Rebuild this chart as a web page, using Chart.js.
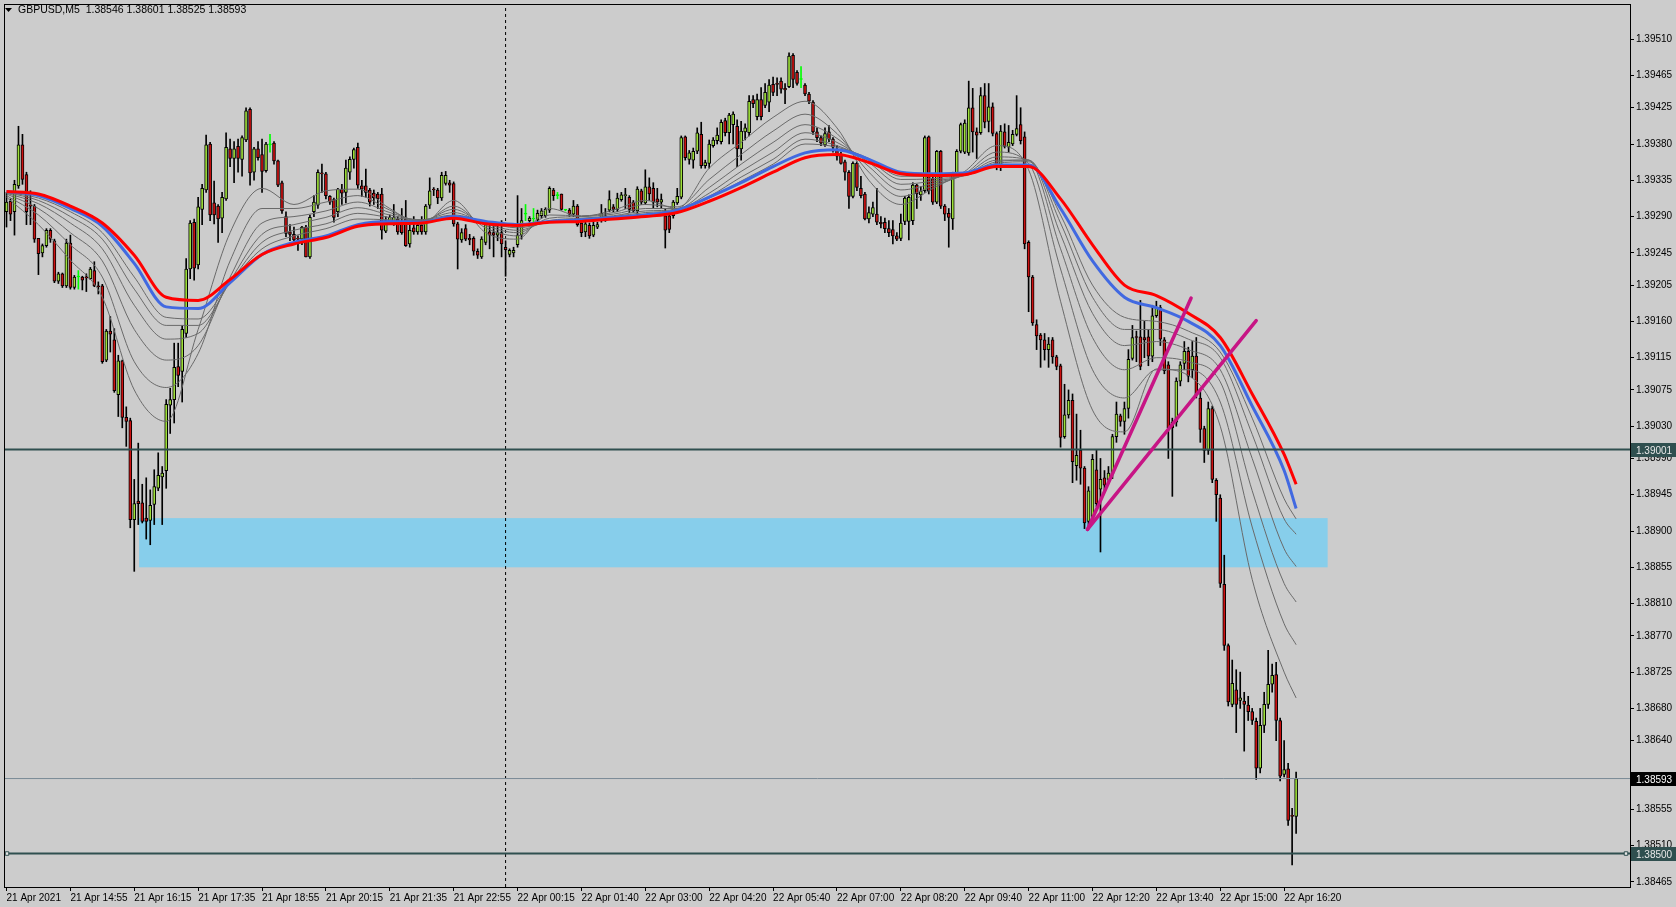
<!DOCTYPE html>
<html>
<head>
<meta charset="utf-8">
<title>GBPUSD,M5</title>
<script src="https://cdn.jsdelivr.net/npm/chart.js@4.4.0/dist/chart.umd.min.js"></script>
<style>
  html, body { margin: 0; padding: 0; background: #cccccc; }
  canvas { display: block; }
</style>
</head>
<body>
<canvas id="chart" width="1676" height="907"></canvas>
<script>
// prices are stored as points above 1.38000 (1 point = 0.00001)
const BASE = 1.38;

// 5 minute candles, bar 0 = 21 Apr 13:35
const opens = [
  1296,1309,1296,1328,1379,1342,1304,1303,1263,1245,1254,1273,1260,1210,1219,1204,
  1257,1202,1215,1215,1215,1213,1223,1204,1204,1112,1148,1137,1069,1111,1041,1037,
  914,937,935,916,913,933,953,967,975,1056,1063,1104,1098,1145,1225,1283,
  1230,1299,1323,1380,1307,1303,1288,1312,1374,1362,1377,1361,1385,1423,1345,1374,
  1367,1347,1379,1381,1359,1332,1290,1271,1268,1263,1262,1277,1240,1296,1304,1344,
  1343,1315,1311,1296,1324,1320,1345,1361,1376,1328,1328,1323,1319,1318,1318,1272,
  1285,1282,1287,1281,1287,1256,1276,1271,1279,1271,1304,1324,1323,1313,1331,1332,
  1331,1281,1261,1275,1263,1263,1247,1240,1258,1271,1270,1267,1270,1252,1243,1245,
  1255,1267,1293,1285,1287,1286,1291,1291,1298,1323,1316,1318,1298,1298,1293,1303,
  1282,1271,1279,1267,1277,1286,1291,1298,1302,1299,1311,1316,1314,1308,1297,1322,
  1307,1327,1325,1312,1308,1291,1291,1291,1307,1314,1389,1361,1360,1371,1392,1353,
  1356,1378,1384,1383,1409,1394,1404,1402,1374,1395,1394,1435,1414,1435,1428,1432,
  1454,1455,1458,1449,1451,1490,1469,1460,1453,1442,1432,1395,1388,1379,1395,1386,
  1372,1366,1358,1345,1315,1356,1325,1318,1287,1293,1293,1283,1283,1275,1274,1266,
  1263,1284,1284,1285,1329,1317,1322,1389,1337,1308,1371,1303,1294,1287,1343,1371,
  1370,1369,1425,1395,1394,1440,1408,1426,1393,1351,1395,1376,1380,1392,1404,1389,
  1258,1215,1156,1143,1137,1125,1137,1116,1105,1017,1044,1062,981,1000,978,912,
  918,976,952,966,964,971,1017,1043,1036,1052,1114,1141,1141,1140,1141,1117,
  1167,1177,1137,1106,1035,1035,1086,1108,1123,1100,1117,1065,1027,1000,1052,963,
  941,834,758,685,703,690,689,684,676,664,606,659,685,710,722,665,
  598,605,547,546
];
const highs = [
  1320,1312,1335,1402,1392,1345,1322,1305,1263,1256,1275,1275,1262,1221,1220,1262,
  1267,1217,1223,1216,1219,1227,1234,1209,1206,1150,1166,1151,1118,1112,1054,1040,
  964,1009,958,966,951,976,997,980,1063,1077,1133,1133,1155,1238,1285,1287,
  1314,1330,1391,1382,1334,1305,1320,1394,1386,1383,1386,1390,1425,1425,1376,1383,
  1386,1382,1392,1383,1360,1334,1296,1280,1277,1266,1278,1279,1292,1316,1348,1355,
  1345,1316,1313,1325,1330,1360,1364,1375,1381,1335,1349,1325,1323,1320,1325,1290,
  1292,1305,1290,1300,1310,1280,1290,1285,1290,1305,1338,1326,1325,1345,1346,1335,
  1333,1283,1275,1280,1268,1265,1250,1265,1284,1282,1282,1280,1285,1260,1250,1252,
  1316,1300,1305,1290,1300,1298,1300,1301,1327,1325,1320,1318,1299,1300,1310,1305,
  1285,1283,1282,1284,1283,1305,1300,1322,1305,1319,1320,1325,1316,1310,1327,1324,
  1348,1338,1332,1325,1318,1300,1295,1310,1325,1390,1390,1372,1375,1400,1407,1360,
  1385,1388,1400,1410,1412,1418,1420,1410,1408,1405,1440,1440,1442,1450,1455,1460,
  1463,1462,1462,1455,1493,1492,1471,1476,1455,1444,1434,1400,1390,1400,1403,1388,
  1378,1370,1360,1347,1358,1358,1340,1320,1302,1308,1325,1290,1288,1285,1285,1270,
  1293,1315,1317,1332,1330,1327,1390,1390,1340,1372,1372,1305,1300,1345,1373,1406,
  1410,1458,1449,1400,1450,1455,1455,1431,1395,1403,1405,1403,1397,1440,1425,1395,
  1260,1217,1162,1145,1145,1140,1140,1118,1107,1082,1075,1070,1045,1025,980,955,
  995,1000,990,975,980,1020,1060,1045,1060,1125,1155,1148,1186,1160,1150,1180,
  1185,1180,1140,1110,1040,1090,1110,1135,1128,1135,1140,1075,1030,1060,1055,965,
  945,870,760,740,728,725,700,695,680,668,680,700,752,735,737,668,
  640,612,556,601
];
const lows = [
  1277,1285,1267,1325,1330,1280,1280,1258,1218,1240,1252,1258,1208,1207,1202,1202,
  1200,1200,1200,1199,1197,1212,1203,1194,1108,1110,1122,1072,1042,1028,1005,904,
  850,908,910,890,883,908,950,908,953,1021,1034,1079,1060,1140,1213,1211,
  1225,1280,1320,1285,1281,1258,1270,1310,1352,1332,1345,1340,1383,1329,1335,1360,
  1320,1345,1370,1355,1327,1294,1265,1260,1255,1248,1255,1240,1238,1290,1300,1320,
  1312,1305,1283,1290,1305,1307,1336,1350,1325,1315,1314,1303,1305,1300,1262,1270,
  1282,1279,1268,1268,1253,1252,1268,1268,1268,1268,1300,1316,1306,1310,1329,1320,
  1278,1225,1258,1260,1255,1242,1238,1238,1255,1250,1240,1260,1240,1216,1240,1240,
  1252,1262,1285,1283,1280,1280,1288,1289,1295,1310,1312,1298,1297,1290,1290,1278,
  1265,1265,1263,1265,1275,1283,1284,1296,1296,1296,1309,1300,1295,1295,1290,1305,
  1305,1310,1300,1302,1300,1251,1270,1288,1305,1312,1360,1355,1350,1368,1350,1350,
  1350,1376,1380,1380,1390,1380,1380,1352,1360,1385,1390,1425,1410,1410,1425,1420,
  1440,1440,1443,1430,1450,1450,1453,1450,1440,1430,1392,1383,1378,1377,1383,1370,
  1360,1355,1335,1300,1313,1322,1313,1286,1282,1290,1280,1276,1270,1265,1256,1260,
  1260,1280,1261,1280,1300,1310,1320,1318,1305,1306,1300,1285,1252,1274,1341,1369,
  1368,1366,1370,1362,1392,1400,1395,1390,1348,1347,1375,1370,1378,1390,1380,1250,
  1172,1155,1125,1103,1112,1103,1108,1100,1004,1015,1040,960,963,958,903,905,
  912,930,874,950,960,965,1010,1030,1020,1040,1112,1110,1100,1115,1105,1110,
  1165,1130,1095,990,943,1030,1080,1100,1085,1090,1065,1010,985,995,960,912,
  830,752,683,682,650,680,627,665,660,592,600,650,680,700,640,590,
  595,535,486,525
];
const closes = [
  1308,1293,1330,1379,1336,1296,1303,1262,1244,1254,1273,1262,1210,1219,1204,1257,
  1202,1215,1215,1211,1214,1225,1204,1203,1110,1148,1144,1074,1111,1041,1036,914,
  934,934,912,912,932,955,969,972,1057,1063,1103,1093,1150,1225,1282,1226,
  1302,1325,1379,1292,1292,1287,1314,1376,1362,1374,1362,1388,1421,1344,1374,1363,
  1346,1380,1379,1359,1329,1297,1269,1268,1261,1262,1277,1240,1289,1308,1345,1343,
  1316,1308,1289,1324,1319,1350,1361,1373,1329,1324,1320,1308,1313,1312,1273,1285,
  1289,1289,1271,1270,1254,1273,1271,1279,1271,1303,1322,1323,1313,1341,1341,1329,
  1281,1262,1270,1262,1261,1247,1242,1262,1280,1267,1267,1270,1256,1249,1248,1248,
  1267,1285,1293,1288,1287,1294,1297,1299,1325,1316,1316,1299,1298,1293,1303,1280,
  1270,1281,1266,1279,1280,1294,1287,1311,1299,1313,1317,1317,1299,1297,1324,1308,
  1327,1318,1308,1308,1311,1273,1274,1308,1315,1388,1363,1369,1371,1394,1353,1357,
  1380,1385,1391,1407,1394,1416,1417,1374,1396,1400,1433,1430,1435,1414,1444,1453,
  1444,1454,1448,1447,1489,1460,1455,1460,1442,1433,1395,1388,1381,1393,1386,1376,
  1365,1356,1345,1315,1356,1326,1316,1287,1295,1301,1283,1281,1275,1270,1266,1262,
  1282,1313,1314,1329,1318,1322,1388,1322,1308,1371,1303,1293,1289,1343,1371,1404,
  1406,1425,1395,1391,1440,1407,1426,1393,1352,1396,1377,1382,1392,1399,1384,1256,
  1215,1158,1142,1137,1125,1132,1116,1104,1016,1044,1062,986,994,978,910,950,
  989,934,964,957,972,1017,1045,1036,1052,1113,1140,1140,1104,1137,1117,1167,
  1177,1138,1099,1028,1028,1086,1106,1123,1092,1117,1069,1026,1000,1052,964,945,
  835,758,688,711,685,693,685,676,665,606,659,685,710,721,665,596,
  604,541,546,593
];

// moving average lines, read at every 8th bar
const maIdx = [0,8,16,24,32,40,48,56,64,72,80,88,96,104,112,120,128,136,144,152,160,
  168,176,184,192,200,208,216,224,232,240,248,256,264,272,280,288,296,304,312,320,323];
const maRed = [1321,1318,1303,1282,1242,1190,1186,1212,1243,1256,1264,1278,1281,1282,1288,1281,1279,1283,1284,1287,1290,
  1295,1309,1326,1345,1363,1367,1357,1343,1341,1342,1352,1352,1312,1255,1205,1192,1170,1140,1070,995,958];
const maBlue = [1321,1316,1300,1278,1232,1178,1176,1208,1243,1258,1266,1280,1284,1283,1290,1284,1280,1284,1286,1289,1292,
  1298,1314,1332,1352,1369,1373,1361,1345,1343,1344,1354,1354,1300,1235,1190,1177,1160,1130,1055,975,928];
const maGrey = [
  [1314,1280,1236,1190,1075,1036,1150,1270,1325,1305,1322,1324,1300,1280,1310,1270,1262,1300,1290,1298,1310,
   1300,1350,1382,1413,1433,1400,1335,1305,1325,1346,1378,1348,1185,1050,1023,1101,1093,1030,840,725,693],
  [1316,1292,1255,1215,1110,1078,1120,1235,1300,1300,1308,1316,1298,1283,1303,1276,1266,1292,1291,1295,1305,
   1302,1336,1367,1396,1417,1393,1345,1315,1328,1343,1370,1356,1225,1100,1065,1100,1100,1060,905,785,759],
  [1318,1300,1270,1235,1150,1112,1130,1215,1282,1290,1297,1308,1295,1285,1299,1279,1270,1288,1290,1293,1300,
   1300,1326,1355,1382,1404,1387,1352,1323,1331,1342,1364,1360,1250,1140,1100,1115,1110,1085,950,835,812],
  [1319,1306,1282,1250,1180,1138,1145,1210,1268,1280,1289,1301,1292,1286,1295,1281,1273,1285,1288,1291,1297,
   1299,1319,1346,1370,1394,1382,1357,1330,1334,1341,1360,1360,1268,1170,1130,1135,1125,1100,990,878,856],
  [1320,1310,1290,1262,1200,1155,1155,1208,1258,1273,1281,1294,1289,1286,1292,1283,1276,1283,1287,1290,1295,
   1298,1315,1339,1361,1386,1378,1360,1336,1337,1341,1358,1360,1282,1190,1150,1150,1138,1115,1020,915,896],
  [1320,1313,1296,1270,1215,1165,1163,1208,1250,1266,1275,1287,1286,1285,1290,1284,1278,1283,1286,1289,1293,
   1297,1313,1334,1355,1380,1376,1362,1340,1340,1341,1356,1358,1292,1205,1165,1160,1148,1122,1040,940,915]
];

// price axis labels and the x labels every 16 bars
const yTicks = [1510,1465,1425,1380,1335,1290,1245,1205,1160,1115,1075,1030,990,945,900,855,810,770,725,680,640,555,510,465];
const xTickIdx = [0,16,32,48,64,80,96,112,128,144,160,176,192,208,224,240,256,272,288,304,320];
const xTickLabels = ['21 Apr 2021','21 Apr 14:55','21 Apr 16:15','21 Apr 17:35','21 Apr 18:55','21 Apr 20:15',
  '21 Apr 21:35','21 Apr 22:55','22 Apr 00:15','22 Apr 01:40','22 Apr 03:00','22 Apr 04:20','22 Apr 05:40',
  '22 Apr 07:00','22 Apr 08:20','22 Apr 09:40','22 Apr 11:00','22 Apr 12:20','22 Apr 13:40','22 Apr 15:00','22 Apr 16:20'];

// drawn objects
const levels = [1001, 500];        // horizontal lines
const zone = { from: 33.2, to: 330.9, low: 855, high: 916 };
const trendA = [[270.75, 902], [296.7, 1189]];
const trendB = [[270.75, 902], [313, 1161]];
const daySeparator = 125;

const X_MIN = -0.375, X_MAX = 406.625;
const Y_MIN = 458.5, Y_MAX = 1552.4;
const FONT = '"Liberation Sans", Arial, sans-serif';
const BULL = '#9ee03a', BEAR = '#cc1111', DOJI = '#00ff00';

const fmt = v => (BASE + v / 1e5).toFixed(5);
const idx = closes.map((_, i) => i);
const isDoji = i => opens[i] === closes[i];

const wicks = idx.map(i => ({ x: i, y: [lows[i], highs[i]] }));
const bodies = idx.map(i => ({ x: i, y: [Math.min(opens[i], closes[i]), Math.max(opens[i], closes[i])] }));
const maLine = arr => maIdx.map((x, k) => ({ x: x, y: arr[k] }));
const hline = v => [{ x: X_MIN, y: v }, { x: X_MAX, y: v }];

const datasets = [];
datasets.push({
  type: 'line', data: maLine(maRed), borderColor: '#ff0000', borderWidth: 3,
  pointRadius: 0, cubicInterpolationMode: 'monotone', order: 1
});
datasets.push({
  type: 'line', data: maLine(maBlue), borderColor: '#4169e1', borderWidth: 3,
  pointRadius: 0, cubicInterpolationMode: 'monotone', order: 2
});
maGrey.forEach(g => datasets.push({
  type: 'line', data: maLine(g), borderColor: '#6a6a6a', borderWidth: 1,
  pointRadius: 0, cubicInterpolationMode: 'monotone', order: 3
}));
datasets.push({
  type: 'bar', data: bodies, grouped: false, barThickness: 3, minBarLength: 1,
  borderWidth: 1, borderSkipped: false,
  backgroundColor: c => isDoji(c.dataIndex) ? DOJI : (closes[c.dataIndex] > opens[c.dataIndex] ? BULL : BEAR),
  borderColor: c => isDoji(c.dataIndex) ? DOJI : '#000000',
  order: 4
});
datasets.push({
  type: 'bar', data: wicks, grouped: false, barThickness: 1, borderWidth: 0,
  backgroundColor: c => isDoji(c.dataIndex) ? DOJI : '#000000',
  order: 5
});
datasets.push({
  type: 'line', data: [{ x: daySeparator, y: Y_MIN }, { x: daySeparator, y: Y_MAX }],
  borderColor: '#000000', borderWidth: 1, borderDash: [3, 3], pointRadius: 0, order: 7
});
levels.forEach(v => datasets.push({
  type: 'line', data: hline(v), borderColor: '#2f4f4f', borderWidth: 2, pointRadius: 0, order: 0
}));
// bid line
datasets.push({
  type: 'line', data: hline(closes[closes.length - 1]), borderColor: '#7a8a96', borderWidth: 1,
  pointRadius: 0, order: 0
});
// selection handles on the 1.38500 line
datasets.push({
  type: 'line', data: [{ x: 0.125, y: levels[1] }, { x: 405.625, y: levels[1] }], showLine: false,
  pointStyle: 'rect', pointRadius: 2.5, pointBackgroundColor: '#e6e6e6', pointBorderColor: '#2f4f4f',
  pointBorderWidth: 1, order: -2
});
[trendA, trendB].forEach(t => datasets.push({
  type: 'line', data: t.map(p => ({ x: p[0], y: p[1] })), borderColor: '#c71585', borderWidth: 3.5,
  borderCapStyle: 'round', pointRadius: 0, order: -1
}));

const mtPlugin = {
  id: 'mt4',
  beforeDraw(chart) {
    const ctx = chart.ctx;
    ctx.save();
    ctx.fillStyle = '#cccccc';
    ctx.fillRect(0, 0, chart.width, chart.height);
    ctx.restore();
  },
  beforeDatasetsDraw(chart) {
    const { ctx, scales: { x, y } } = chart;
    const x1 = x.getPixelForValue(zone.from), x2 = x.getPixelForValue(zone.to);
    const y1 = y.getPixelForValue(zone.high), y2 = y.getPixelForValue(zone.low);
    ctx.save();
    ctx.fillStyle = '#87ceeb';
    ctx.fillRect(x1, y1, x2 - x1, y2 - y1);
    ctx.restore();
  },
  afterDraw(chart) {
    const { ctx, chartArea: a, scales: { y } } = chart;
    ctx.save();
    // frame
    ctx.strokeStyle = '#000000';
    ctx.lineWidth = 1;
    ctx.strokeRect(a.left - 0.5, a.top - 0.5, a.right - a.left + 1, a.bottom - a.top + 1);

    // price tags on the axis
    const last = closes.length - 1;
    const tags = [
      { v: levels[0], bg: '#2f4f4f', fg: '#e8e8e8' },
      { v: closes[last], bg: '#000000', fg: '#ffffff' },
      { v: levels[1], bg: '#2f4f4f', fg: '#e8e8e8' }
    ];
    ctx.font = '10px ' + FONT;
    ctx.textBaseline = 'middle';
    ctx.textAlign = 'left';
    tags.forEach(t => {
      const py = Math.round(y.getPixelForValue(t.v));
      ctx.fillStyle = t.bg;
      ctx.fillRect(a.right + 1, py - 7, chart.width - a.right - 1, 14);
      ctx.fillStyle = t.fg;
      ctx.fillText(fmt(t.v), a.right + 6, py + 1);
    });

    // title
    ctx.fillStyle = '#000000';
    ctx.beginPath();
    ctx.moveTo(5, 8); ctx.lineTo(12, 8); ctx.lineTo(8.5, 12); ctx.closePath();
    ctx.fill();
    ctx.font = '10.5px ' + FONT;
    ctx.textBaseline = 'middle';
    ctx.fillText('GBPUSD,M5  ' + [opens[last], highs[last], lows[last], closes[last]].map(fmt).join(' '), 18, 10.5);
    ctx.restore();
  }
};

new Chart(document.getElementById('chart'), {
  type: 'bar',
  data: { datasets: datasets },
  options: {
    responsive: false,
    animation: false,
    devicePixelRatio: 1,
    events: [],
    layout: { padding: { left: 2, top: 2, right: 0, bottom: 0 } },
    plugins: { legend: { display: false }, tooltip: { enabled: false } },
    scales: {
      x: {
        type: 'linear', position: 'bottom', min: X_MIN, max: X_MAX, offset: false,
        afterFit: s => { s.height = 20; s.paddingLeft = 0; s.paddingRight = 0; },
        afterBuildTicks: s => { s.ticks = xTickIdx.map(v => ({ value: v })); },
        grid: { drawOnChartArea: false, drawTicks: true, tickLength: 4, color: '#000000', offset: false },
        border: { display: false },
        ticks: {
          autoSkip: false, maxRotation: 0, align: 'start', padding: 1, color: '#000000',
          font: { family: FONT, size: 10 },
          callback: v => xTickLabels[xTickIdx.indexOf(v)]
        }
      },
      y: {
        type: 'linear', position: 'right', min: Y_MIN, max: Y_MAX,
        afterFit: s => { s.width = 46; s.paddingTop = 0; s.paddingBottom = 0; },
        afterBuildTicks: s => { s.ticks = yTicks.map(v => ({ value: v })); },
        grid: { drawOnChartArea: false, drawTicks: true, tickLength: 4, color: '#000000' },
        border: { display: false },
        ticks: {
          autoSkip: false, padding: 2, color: '#000000',
          font: { family: FONT, size: 10 },
          callback: v => fmt(v)
        }
      }
    }
  },
  plugins: [mtPlugin]
});
</script>
</body>
</html>
